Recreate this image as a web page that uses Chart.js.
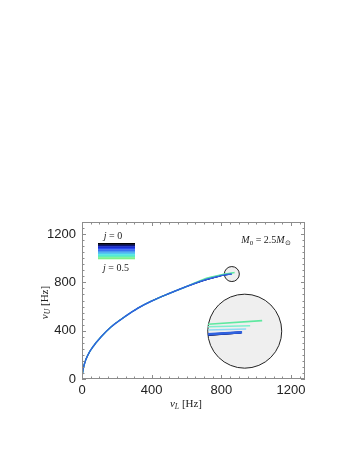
<!DOCTYPE html>
<html><head><meta charset="utf-8">
<script src="https://cdn.jsdelivr.net/npm/chart.js@4/dist/chart.umd.min.js"></script>
<style>html,body{margin:0;padding:0;background:#fff}canvas{display:block}</style>
</head><body>
<canvas id="c" width="349" height="451"></canvas>
<script>
// ---- data ----
const xTicks = [0, 400, 800, 1200];
const yTicks = [0, 400, 800, 1200];
const spinValues = ['0', '0.1', '0.2', '0.3', '0.4', '0.5'];
// shared lower part of the nu_U(nu_L) curve
const nuL_common = [0, 2, 15, 34, 63, 110, 168, 244, 320, 400, 500, 600];
const nuU_common = [0, 40, 130, 199, 267, 350, 433, 514, 586, 646, 708, 766];
// upper parts, per spin
const nuL_j00 = [650, 700, 780, 809, 857];  const nuU_j00 = [792, 816, 848, 859, 868];
const nuL_j01 = [650, 700, 780, 810, 858];  const nuU_j01 = [792, 816, 848, 859, 869];
const nuL_j02 = [650, 700, 781, 811, 859];  const nuU_j02 = [793, 817, 849, 860, 870];
const nuL_j03 = [651, 702, 783, 815, 862];  const nuU_j03 = [794, 820, 852, 864, 873];
const nuL_j04 = [652, 706, 786, 822, 866];  const nuU_j04 = [796, 826, 856, 868, 878];
const nuL_j05 = [654, 714, 790, 830, 876];  const nuU_j05 = [799, 834, 860, 872, 882];
// magnified view (inset), as drawn in main-plot coordinates
const insetL_j00 = [723, 912];  const insetU_j00 = [366, 385];
const insetL_j01 = [723, 916];  const insetU_j01 = [368, 386];
const insetL_j02 = [723, 919];  const insetU_j02 = [370, 387];
const insetL_j03 = [723, 942];  const insetU_j03 = [406, 414];
const insetL_j04 = [723, 965];  const insetU_j04 = [433, 441];
const insetL_j05 = [723, 1034]; const insetU_j05 = [453, 483];
// zoom circles: [nu_L, nu_U] centres
const smallCircle = [860, 869];
const bigCircle = [934, 396];

// ---- styling ----
const colors = ['#000000', '#0d1fa0', '#2f62e0', '#8fd8f2', '#7cf0cc', '#5fe8a0'];
const legendColors = ['#000000','#0a1470','#1428c8','#2a48f0','#3a70f0','#4a9af0','#50c8f0','#50e8e0','#60f0b8','#80f088'];
const curveL = [nuL_j00, nuL_j01, nuL_j02, nuL_j03, nuL_j04, nuL_j05];
const curveU = [nuU_j00, nuU_j01, nuU_j02, nuU_j03, nuU_j04, nuU_j05];
const insL = [insetL_j00, insetL_j01, insetL_j02, insetL_j03, insetL_j04, insetL_j05];
const insU = [insetU_j00, insetU_j01, insetU_j02, insetU_j03, insetU_j04, insetU_j05];
const curveOrder = [3, 2, 0, 4, 5, 1];
const curveWidth = [1.0, 1.0, 1.5, 1.2, 1.2, 1.4];
const insetOrder = [2, 1, 0, 5, 4, 3];
const insetWidth = [2.2, 2.2, 2.4, 1.4, 1.4, 1.6];

const pts = (L, U) => L.map((v, i) => ({x: v, y: U[i]}));
const datasets = [];
spinValues.forEach((j, k) => {
  datasets.push({
    label: 'j = ' + j,
    data: pts(nuL_common.concat(curveL[k]), nuU_common.concat(curveU[k])),
    borderColor: colors[k], borderWidth: curveWidth[k], pointRadius: 0,
    cubicInterpolationMode: 'monotone', order: curveOrder[k]
  });
});
spinValues.forEach((j, k) => {
  datasets.push({
    label: 'j = ' + j + ' (zoom)',
    data: pts(insL[k], insU[k]),
    borderColor: colors[k], borderWidth: insetWidth[k], pointRadius: 0,
    order: insetOrder[k]
  });
});

function drawRich(ctx, parts, x, y, size) {
  let w = 0;
  const fonts = parts.map(p => {
    const s = p.sub ? size * 0.7 : size;
    const f = (p.it ? 'italic ' : '') + s + 'px "Liberation Serif", serif';
    ctx.font = f; const m = ctx.measureText(p.t).width; w += m;
    return {f, m};
  });
  let cx = x - w / 2;
  ctx.textBaseline = 'middle'; ctx.textAlign = 'left';
  parts.forEach((p, i) => {
    ctx.font = fonts[i].f;
    ctx.fillText(p.t, cx, y + (p.sub ? size * 0.3 : 0));
    cx += fonts[i].m;
  });
}

const decor = {
  id: 'decor',
  beforeDatasetsDraw(chart) {
    const {ctx, scales: {x, y}} = chart;
    ctx.save();
    [[bigCircle, 37], [smallCircle, 7.5]].forEach(([c, r]) => {
      ctx.beginPath();
      ctx.arc(x.getPixelForValue(c[0]), y.getPixelForValue(c[1]), r, 0, Math.PI * 2);
      ctx.fillStyle = '#efefef'; ctx.fill();
      ctx.strokeStyle = '#222'; ctx.lineWidth = 1; ctx.stroke();
    });
    ctx.restore();
  },
  afterDraw(chart) {
    const {ctx, chartArea: a, scales: {x, y}} = chart;
    ctx.save();
    ctx.strokeStyle = '#8c8c8c'; ctx.lineWidth = 1;
    ctx.strokeRect(a.left + 0.5, a.top + 0.5, a.right - a.left - 1, a.bottom - a.top - 1);
    ctx.beginPath();
    for (let v = 0; v <= x.max; v += 50) {
      const px = Math.round(x.getPixelForValue(v)) + 0.5;
      const len = v % 400 === 0 ? 4 : 2.5;
      ctx.moveTo(px, a.bottom); ctx.lineTo(px, a.bottom - len);
      ctx.moveTo(px, a.top); ctx.lineTo(px, a.top + len);
    }
    for (let v = 0; v <= y.max; v += 50) {
      const py = Math.round(y.getPixelForValue(v)) + 0.5;
      const len = v % 400 === 0 ? 4 : 2.5;
      ctx.moveTo(a.left, py); ctx.lineTo(a.left + len, py);
      ctx.moveTo(a.right, py); ctx.lineTo(a.right - len, py);
    }
    ctx.stroke();

    ctx.fillStyle = '#222';
    // axis titles
    drawRich(ctx, [{t: 'ν', it: true}, {t: 'L', it: true, sub: true}, {t: ' [Hz]'}], 186, 404, 11);
    ctx.save();
    ctx.translate(45, (a.top + a.bottom) / 2 + 2);
    ctx.rotate(-Math.PI / 2);
    drawRich(ctx, [{t: 'ν', it: true}, {t: 'U', it: true, sub: true}, {t: ' [Hz]'}], 0, 0, 11);
    ctx.restore();
    // annotation
    drawRich(ctx, [{t: 'M', it: true}, {t: '0', sub: true}, {t: ' = 2.5'}, {t: 'M', it: true}, {t: '⊙', sub: true}], a.right - 39, 240, 10);
    // legend
    const lx = 98, ly = 243, lw = 37, lh = 16;
    const sh = lh / legendColors.length;
    legendColors.forEach((c, i) => {
      ctx.fillStyle = c;
      ctx.fillRect(lx, ly + i * sh, lw, sh + 0.3);
    });
    ctx.fillStyle = '#222';
    drawRich(ctx, [{t: 'j', it: true}, {t: ' = ' + spinValues[0]}], 113, 236, 10);
    drawRich(ctx, [{t: 'j', it: true}, {t: ' = ' + spinValues[spinValues.length - 1]}], 116, 268, 10);
    ctx.restore();
  }
};

const tickFont = {family: '"Liberation Sans", Arial, sans-serif', size: 13};
new Chart(document.getElementById('c'), {
  type: 'line',
  data: {datasets},
  options: {
    responsive: false, animation: false, events: [],
    layout: {padding: {left: 0, right: 44, top: 222, bottom: 0}},
    plugins: {legend: {display: false}, tooltip: {enabled: false}},
    scales: {
      x: {
        type: 'linear', min: 0, max: 1280,
        afterBuildTicks: s => { s.ticks = xTicks.map(v => ({value: v})); },
        afterFit: s => { s.height = 72; },
        grid: {display: false, drawTicks: false}, border: {display: false},
        ticks: {padding: 4, color: '#222', font: tickFont, callback: v => String(v)}
      },
      y: {
        type: 'linear', min: 0, max: 1300,
        afterBuildTicks: s => { s.ticks = yTicks.map(v => ({value: v})); },
        afterFit: s => { s.width = 82; },
        grid: {display: false, drawTicks: false}, border: {display: false},
        ticks: {padding: 6, color: '#222', font: tickFont, callback: v => String(v)}
      }
    }
  },
  plugins: [decor]
});
</script>
</body></html>
